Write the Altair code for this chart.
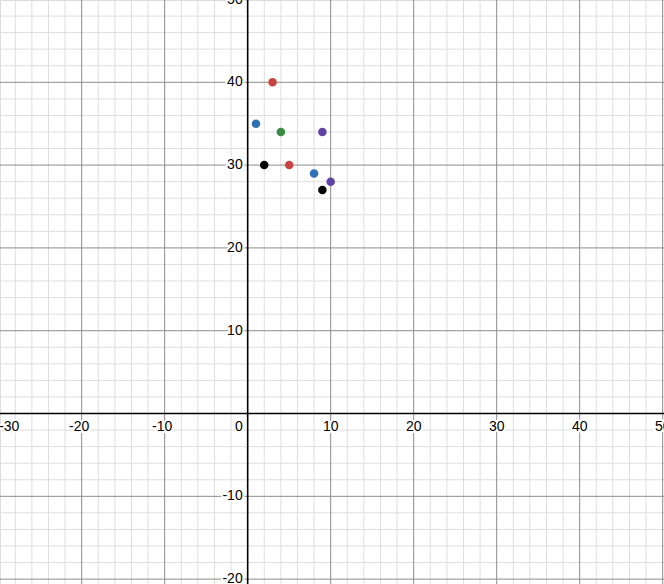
import altair as alt
import pandas as pd

# Plotted points (x, y) and their colours
px = [3, 1, 4, 9, 2, 5, 8, 10, 9]
py = [40, 35, 34, 34, 30, 30, 29, 28, 27]
pcolor = ["#c74440", "#2d70b3", "#388c46", "#6042a6", "#000000",
          "#c74440", "#2d70b3", "#6042a6", "#000000"]

# Axis tick labels
x_labels = [-30, -20, -10, 10, 20, 30, 40, 50]
y_labels = [-20, -10, 10, 20, 30, 40, 50]

# Grid spacing
x_minor = [v for v in range(-30, 52, 2) if v % 10 != 0]
y_minor = [v for v in range(-20, 52, 2) if v % 10 != 0]
x_major = [v for v in range(-30, 51, 10) if v != 0]
y_major = [v for v in range(-20, 51, 10) if v != 0]

X_DOMAIN = [-29.84, 50.16]
Y_DOMAIN = [-20.59, 49.94]
W, H = 664, 584

xs = alt.Scale(domain=X_DOMAIN, nice=False, zero=False)
ys = alt.Scale(domain=Y_DOMAIN, nice=False, zero=False)
FONT = "Liberation Sans"


def vrules(vals, color, width):
    return alt.Chart(pd.DataFrame({"v": vals})).mark_rule(
        color=color, strokeWidth=width
    ).encode(x=alt.X("v:Q", scale=xs, axis=None))


def hrules(vals, color, width):
    return alt.Chart(pd.DataFrame({"v": vals})).mark_rule(
        color=color, strokeWidth=width
    ).encode(y=alt.Y("v:Q", scale=ys, axis=None))


minor = vrules(x_minor, "#dedede", 1) + hrules(y_minor, "#dedede", 1)
major = vrules(x_major, "#8c8c8c", 1) + hrules(y_major, "#8c8c8c", 1)
axes = vrules([0], "#000000", 1.6) + hrules([0], "#000000", 1.6)


def text_layer(df, halo, **kw):
    style = dict(font=FONT, fontSize=14, color="#000000", **kw)
    if halo:
        style.update(stroke="white", strokeWidth=4, strokeJoin="round")
    return alt.Chart(df).mark_text(**style).encode(
        x=alt.X("x:Q", scale=xs, axis=None),
        y=alt.Y("y:Q", scale=ys, axis=None),
        text=alt.Text("label:N"),
    )


xl = pd.DataFrame({"x": x_labels, "y": [0] * len(x_labels),
                   "label": [str(v) for v in x_labels]})
x_left = X_DOMAIN[0]
xl_edge = xl[xl["x"] < x_left]            # label whose gridline sits at the left edge
xl_pos = xl[xl["x"] > 0]
xl_neg = xl[(xl["x"] < 0) & (xl["x"] >= x_left)]
yl = pd.DataFrame({"x": [0] * len(y_labels), "y": y_labels,
                   "label": [str(v) for v in y_labels]})
zero = pd.DataFrame({"x": [0], "y": [0], "label": ["0"]})

labels = None
for halo in (True, False):
    layer = (
        text_layer(xl_pos, halo, align="center", baseline="alphabetic", dy=17.5)
        + text_layer(xl_neg, halo, align="center", baseline="alphabetic", dy=17.5, dx=-2.5)
        + text_layer(xl_edge, halo, align="left", baseline="alphabetic", dy=17.5, dx=0.5)
        + text_layer(yl, halo, align="right", baseline="middle", dx=-5)
        + text_layer(zero, halo, align="right", baseline="alphabetic", dx=-5, dy=17.5)
    )
    labels = layer if labels is None else labels + layer

pts = pd.DataFrame({"x": px, "y": py, "c": pcolor})
points = alt.Chart(pts).mark_circle(size=72, opacity=1).encode(
    x=alt.X("x:Q", scale=xs, axis=None),
    y=alt.Y("y:Q", scale=ys, axis=None),
    color=alt.Color("c:N", scale=None, legend=None),
)

chart = alt.layer(minor, major, axes, labels, points).properties(
    width=W, height=H, padding=0,
    autosize=alt.AutoSizeParams(type="none"),
).configure_view(stroke=None).configure(background="white")

chart.save("out.html", embed_options={"renderer": "svg", "actions": False})
